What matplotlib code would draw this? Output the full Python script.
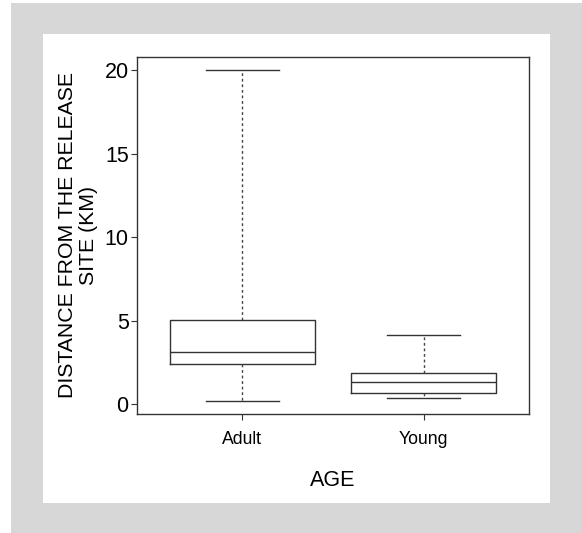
import matplotlib
matplotlib.use("Agg")
import matplotlib.pyplot as plt
from matplotlib.patches import Rectangle

plt.rcParams['font.family'] = ['Liberation Sans', 'DejaVu Sans']

categories = ["Adult", "Young"]
whisker_low = [0.22, 0.36]
q1 = [2.41, 0.66]
median = [3.15, 1.36]
q3 = [5.07, 1.86]
whisker_high = [20.0, 4.15]
y_ticks = [0, 5, 10, 15, 20]

fig = plt.figure(figsize=(5.82, 5.33), dpi=100)
fig.patch.set_facecolor('white')
fig.patches.append(Rectangle((11/582, 0), 1 - 11/582, 1 - 3/533, transform=fig.transFigure,
                             facecolor='#d7d7d7', edgecolor='none', zorder=-2))
fig.patches.append(Rectangle((43/582, 1 - 503/533), (550 - 43)/582, (503 - 34)/533,
                             transform=fig.transFigure, facecolor='white', edgecolor='none', zorder=-1))

ax = fig.add_axes([137/582, 1 - 414/533, (529 - 137)/582, (414 - 57)/533])
ax.set_facecolor('white')

stats = []
for i, c in enumerate(categories):
    stats.append(dict(label=c, whislo=whisker_low[i], q1=q1[i], med=median[i],
                      q3=q3[i], whishi=whisker_high[i], fliers=[]))

lc = '#333333'
ax.bxp(stats, positions=[1, 2], widths=0.8, showfliers=False,
       boxprops=dict(color=lc, linewidth=1.0),
       medianprops=dict(color=lc, linewidth=1.0),
       whiskerprops=dict(color='#444444', linewidth=1.0, linestyle=(0, (2, 2))),
       capprops=dict(color=lc, linewidth=1.0),
       capwidths=0.4)

ax.set_xlim(0.42, 2.58)
ax.set_ylim(-0.57, 20.79)
ax.set_yticks(y_ticks)
ax.set_yticklabels([str(v) for v in y_ticks], fontsize=15.5)
ax.set_xticks([1, 2])
ax.set_xticklabels(categories, fontsize=12.7)
ax.tick_params(axis='y', length=4.5, width=0.8, color=lc, pad=1.5)
ax.tick_params(axis='x', length=4, width=0.8, color=lc, pad=8)
for s in ax.spines.values():
    s.set_color(lc)
    s.set_linewidth(1.0)

ax.set_xlabel("AGE", fontsize=15.5)
ax.xaxis.set_label_coords(0.5, (414 - 480) / 357)
ax.xaxis.label.set_va('center')
ax.set_ylabel("DISTANCE FROM THE RELEASE\nSITE (KM)", fontsize=15.3, linespacing=1.15)
ax.yaxis.set_label_coords((78 - 137) / 392, 0.5)
ax.yaxis.label.set_va('center')

fig.savefig("out.png", dpi=100)
